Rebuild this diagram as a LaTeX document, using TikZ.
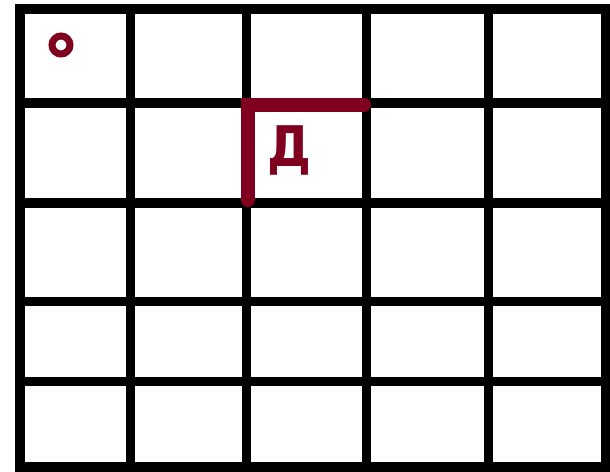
\documentclass[tikz,border=0pt]{standalone}
\usepackage{fontspec}
\newfontfamily\dejavu{DejaVu Sans}
\definecolor{maroon}{RGB}{128,0,32}
\tikzset{
  gridline/.style={black, line width=9.5pt},
  redmark/.style={maroon, line width=14pt, line cap=round, line join=miter},
  letter/.style={text=maroon, font=\dejavu\bfseries\fontsize{56}{56}\selectfont, inner sep=0pt, anchor=base, xscale=0.88}
}
\begin{document}
\begin{tikzpicture}[x=1pt,y=-1pt]
\useasboundingbox[fill=white] (0,0) rectangle (610,471);
% vertical lines
\foreach \x in {130.5,246.5,366.5,488.5} \draw[gridline] (\x,9) -- (\x,467);
% horizontal lines
\foreach \y in {103,203,301.5,381.5} \draw[gridline] (20,\y) -- (606,\y);
% outer frame
\draw[gridline] (20,9) rectangle (606,467);
% circle
\node[draw=maroon, line width=7pt, circle, minimum size=18pt, inner sep=0pt] (ring) at (61,45) {};
% red corner
\coordinate (cb) at (247.5,200);
\coordinate (cc) at (247.5,105);
\coordinate (ce) at (364,105);
\draw[redmark] (cb) -- (cc) -- (ce);
% letter
\node[letter] (d) at (289,166) {Д};
\end{tikzpicture}
\end{document}
